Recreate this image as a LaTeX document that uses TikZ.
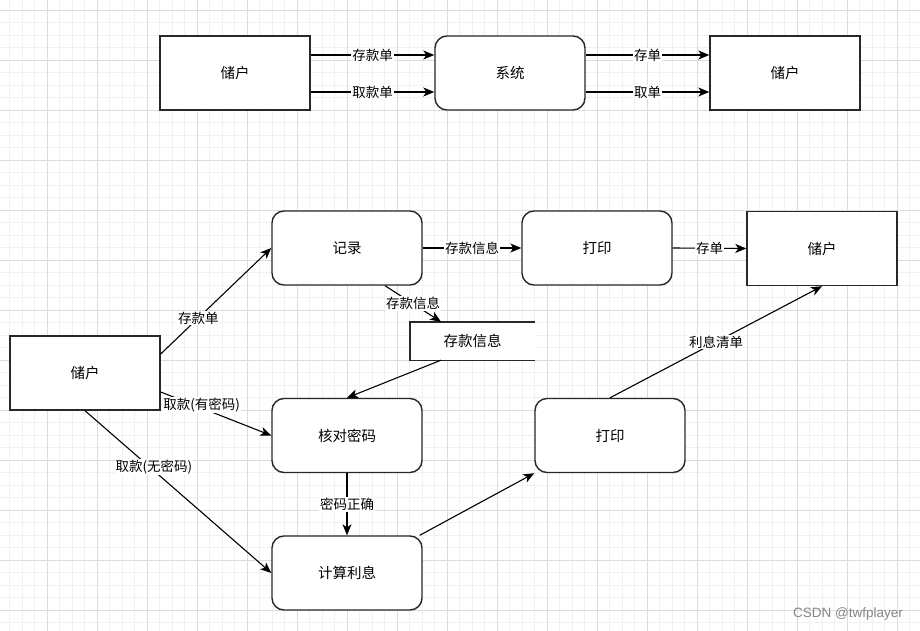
\documentclass[tikz,border=0pt]{standalone}
\usepackage{fontspec}
\newfontfamily\cjk{Noto Sans CJK SC}
\newfontfamily\wmfont{Liberation Sans}
\usetikzlibrary{arrows.meta,calc}
\definecolor{gminor}{RGB}{241,241,241}
\definecolor{gmajor}{RGB}{220,220,220}
\definecolor{boxline}{RGB}{40,40,40}
\begin{document}
\begin{tikzpicture}[x=1pt,y=-1pt,
  box/.style={draw=boxline, line width=1.4pt, minimum width=150pt, minimum height=74pt,
    inner sep=0pt, fill=white, font=\cjk\fontsize{14.5}{16}\selectfont},
  rbox/.style={box, rounded corners=12pt},
  flow/.style={draw=black, line width=1.1pt, -{Stealth[length=11pt,width=9pt,inset=3pt]}},
  lbl/.style={fill=white, inner sep=1pt, font=\cjk\fontsize{13.5}{15}\selectfont},
  minorline/.style={draw=gminor, line width=0.9pt},
  majorline/.style={draw=gmajor, line width=0.9pt}]
\useasboundingbox (0,0) rectangle (920,631);
\fill[white] (0,0) rectangle (920,631);
\begin{scope}
\clip (0,0) rectangle (920,631);
\foreach \i in {0,...,75} {
  \draw[minorline] ({-3+12.5*\i},0) -- ({-3+12.5*\i},631);
}
\foreach \j in {0,...,52} {
  \draw[minorline] (0,{-2.5+12.5*\j}) -- (920,{-2.5+12.5*\j});
}
\foreach \i in {0,...,19} {
  \draw[majorline] ({-3+50*\i},0) -- ({-3+50*\i},631);
}
\foreach \j in {0,...,13} {
  \draw[majorline] (0,{10+50*\j}) -- (920,{10+50*\j});
}
\end{scope}

% top row
\node[box]  (u1)  at (235,73) {储户};
\node[rbox] (sys) at (510,73) {系统};
\node[box]  (u2)  at (785,73) {储户};

\draw[flow] ([yshift=18pt]u1.east) -- node[lbl]{存款单} ([yshift=18pt]sys.west);
\draw[flow] ([yshift=-19pt]u1.east) -- node[lbl]{取款单} ([yshift=-19pt]sys.west);
\draw[flow] ([yshift=18pt]sys.east) -- node[lbl]{存单} ([yshift=18pt]u2.west);
\draw[flow] ([yshift=-19pt]sys.east) -- node[lbl]{取单} ([yshift=-19pt]u2.west);

% bottom diagram
\node[rbox] (jl)  at (347,248) {记录};
\node[rbox] (dy1) at (597,248) {打印};
\node[box]  (u3)  at (822,248.5) {储户};
\node[inner sep=0pt, minimum width=125pt, minimum height=38pt, fill=white,
      font=\cjk\fontsize{14.5}{16}\selectfont] (ds) at (472.5,341) {存款信息};
\draw[draw=boxline, line width=1.4pt] (ds.north east) -- (ds.north west) -- (ds.south west) -- (ds.south east);
\node[box]  (u4)  at (85,373) {储户};
\node[rbox] (hd)  at (347,435.5) {核对密码};
\node[rbox] (dy2) at (610,435.5) {打印};
\node[rbox] (js)  at (347,573) {计算利息};

\draw[flow] (jl.east) -- node[lbl]{存款信息} (dy1.west);
\draw[flow] (dy1.east) -- node[lbl]{存单} (u3.west);
\draw[flow] ([xshift=38pt]jl.south) -- node[lbl]{存款信息} ([xshift=-31.5pt]ds.north);
\draw[flow] ([xshift=-31.5pt]ds.south) -- (hd.north);
\draw[flow] ([yshift=19pt]u4.east) -- node[lbl,pos=0.34]{存款单} (jl.west);
\draw[flow] ([yshift=-19pt]u4.east) -- node[lbl,pos=0.37,yshift=3pt]{取款(有密码)} (hd.west);
\draw[flow] (u4.south) -- node[lbl,pos=0.37,yshift=4pt]{取款(无密码)} (js.west);
\draw[flow] (hd.south) -- node[lbl]{密码正确} (js.north);
\draw[flow] ([xshift=-3pt]js.north east) -- (dy2.south west);
\draw[flow] (dy2.north) -- node[lbl]{利息清单} (u3.south);

\node[font=\wmfont\fontsize{13.5}{15}\selectfont, text=black!48] (wm) at (848,614) {CSDN @twfplayer};
\end{tikzpicture}
\end{document}
